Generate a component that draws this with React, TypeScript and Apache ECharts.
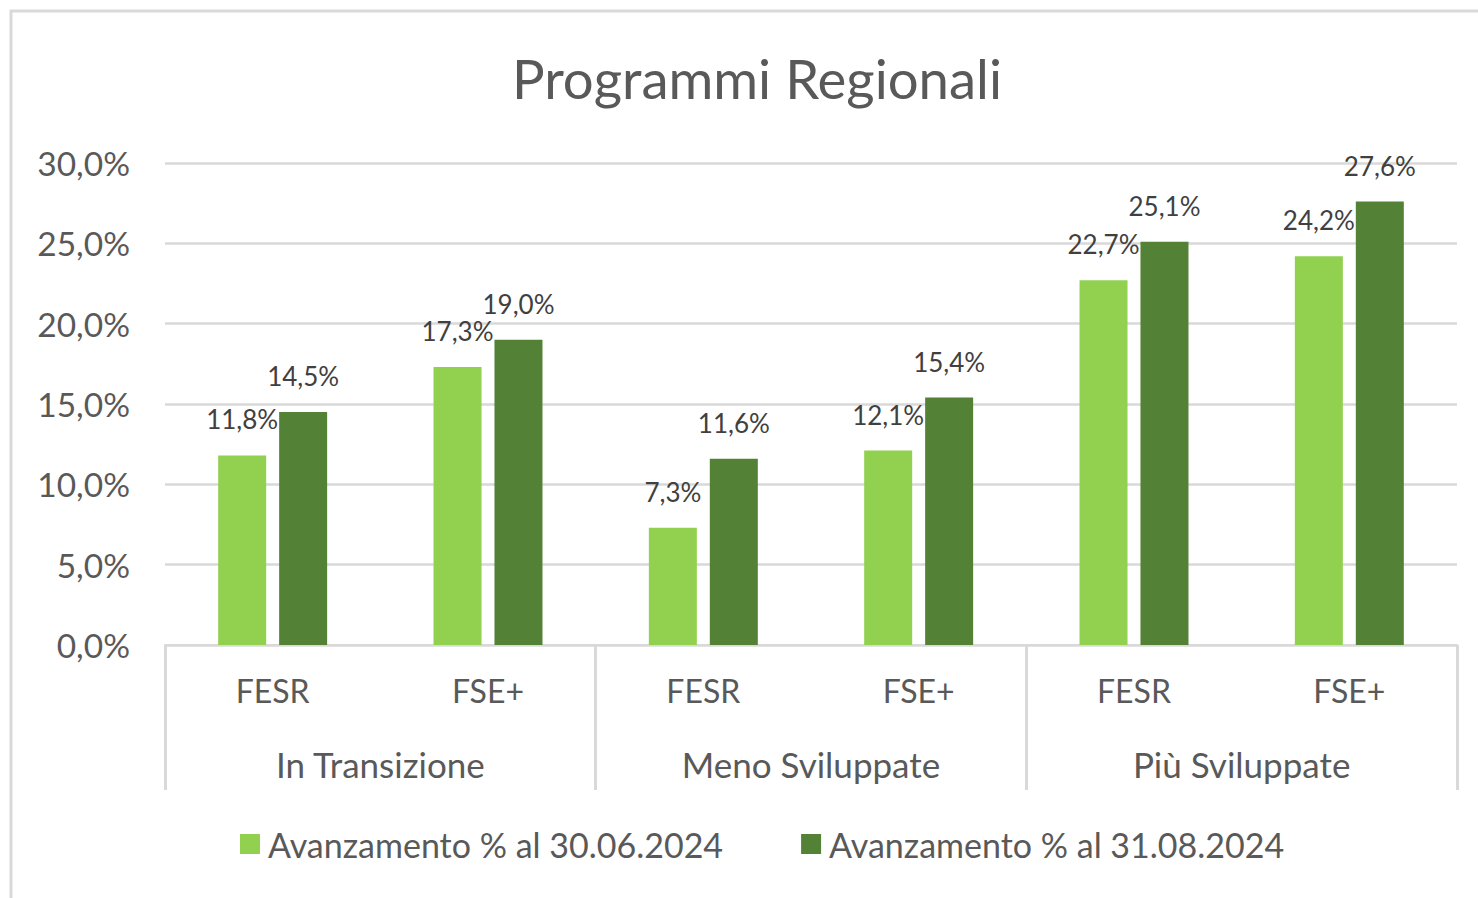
import React, { useEffect, useRef } from "react";
import * as echarts from "echarts";

const subCategories = ["FESR", "FSE+", "FESR", "FSE+", "FESR", "FSE+"];
const groups = ["In Transizione", "Meno Sviluppate", "Più Sviluppate"];
const seriesNames = ["Avanzamento % al 30.06.2024", "Avanzamento % al 31.08.2024"];
const values2406 = [11.8, 17.3, 7.3, 12.1, 22.7, 24.2];
const values2408 = [14.5, 19.0, 11.6, 15.4, 25.1, 27.6];
const yTicks = { min: 0, max: 30, interval: 5 };

const FONT = "Lato";
const TEXT = "#595959";
const GRID = "#d9d9d9";

const pct = (v: number) => v.toFixed(1).replace(".", ",") + "%";

export default function App() {
  const ref = useRef<HTMLDivElement>(null);
  useEffect(() => {
    document.body.style.margin = "0";
    const chart = echarts.init(ref.current!, null, { renderer: "svg" });
    const labelStyle = {
      show: true,
      position: "top" as const,
      distance: 23,
      fontFamily: FONT,
      fontSize: 26,
      color: "#404040",
      formatter: (p: any) => pct(p.value),
    };
    chart.setOption({
      animation: false,
      backgroundColor: "#fff",
      textStyle: { fontFamily: FONT },
      title: {
        text: "Programmi Regionali",
        left: 752,
        textAlign: "center",
        top: 45,
        textStyle: { fontFamily: FONT, fontSize: 54.5, fontWeight: "normal", color: TEXT },
      },
      graphic: [
        {
          type: "rect",
          shape: { x: 11, y: 11, width: 1600, height: 1000 },
          style: { fill: "none", stroke: GRID, lineWidth: 3 },
          silent: true,
        },
      ],
      legend: {
        left: 235,
        top: 822,
        itemWidth: 20,
        itemHeight: 20,
        itemGap: 78,
        icon: "rect",
        textStyle: { fontFamily: FONT, fontSize: 34, color: TEXT, padding: [0, 0, 0, 3] },
        data: seriesNames,
      },
      grid: { left: 165, right: 21, top: 163, bottom: 253 },
      xAxis: [
        {
          type: "category",
          data: subCategories,
          position: "bottom",
          axisLine: { show: true, lineStyle: { color: GRID, width: 2 } },
          axisTick: { show: false },
          axisLabel: { margin: 29, fontFamily: FONT, fontSize: 32, color: TEXT },
          splitLine: { show: false },
        },
        {
          type: "category",
          data: groups,
          position: "bottom",
          axisLine: { show: false },
          axisTick: { show: true, length: 145, lineStyle: { color: GRID, width: 3 } },
          axisLabel: { margin: 101, fontFamily: FONT, fontSize: 35, color: TEXT },
          splitLine: { show: false },
        },
      ],
      yAxis: {
        type: "value",
        min: yTicks.min,
        max: yTicks.max,
        interval: yTicks.interval,
        axisLine: { show: false },
        axisTick: { show: false },
        splitLine: { lineStyle: { color: GRID, width: 2.5 } },
        axisLabel: { margin: 35, fontFamily: FONT, fontSize: 33.5, color: TEXT, formatter: (v: number) => pct(v) },
      },
      series: [
        {
          name: seriesNames[0],
          type: "bar",
          xAxisIndex: 0,
          data: values2406,
          barWidth: 48,
          barGap: "27%",
          itemStyle: { color: "#92D050" },
          label: labelStyle,
        },
        {
          name: seriesNames[1],
          type: "bar",
          xAxisIndex: 0,
          data: values2408,
          barWidth: 48,
          barGap: "27%",
          itemStyle: { color: "#538135" },
          label: labelStyle,
        },
      ],
    });
    return () => chart.dispose();
  }, []);
  return <div ref={ref} style={{ width: 1478, height: 898 }} />;
}
